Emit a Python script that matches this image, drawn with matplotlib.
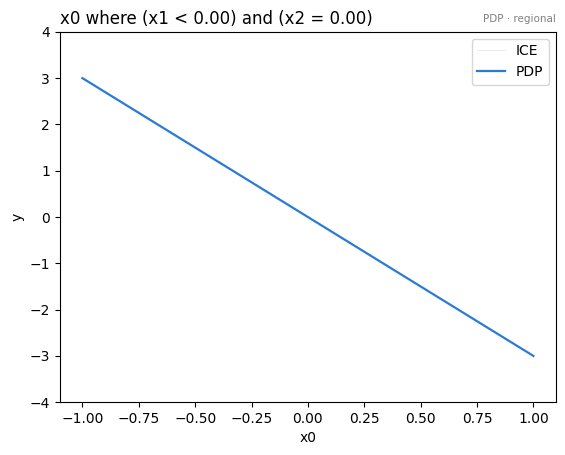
import matplotlib
matplotlib.use("Agg")
import matplotlib.pyplot as plt

# -------------------------------
# Data
# -------------------------------
x_grid = [-1.0, -0.5, 0.0, 0.5, 1.0]
ice_curves = [
    [3.0, 1.5, 0.0, -1.5, -3.0],
    [3.0, 1.5, 0.0, -1.5, -3.0],
    [3.0, 1.5, 0.0, -1.5, -3.0],
]
pdp_values = [3.0, 1.5, 0.0, -1.5, -3.0]

# -------------------------------
# Plot
# -------------------------------
fig = plt.figure(figsize=(5.65, 4.55), dpi=100)
ax = fig.add_axes([0.106, 0.116, 0.878, 0.814])

for i, curve in enumerate(ice_curves):
    ax.plot(x_grid, curve, color="lightgray", linewidth=0.5, alpha=0.6,
            label="ICE" if i == 0 else None)
ax.plot(x_grid, pdp_values, color="#2b7bd6", linewidth=1.6, label="PDP")

ax.set_ylim(-4, 4)
ax.set_xlabel("x0")
ax.set_ylabel("y")
ax.set_title("x0 where (x1 < 0.00) and (x2 = 0.00)", loc="left")
ax.text(1.0, 1.02, "PDP · regional", transform=ax.transAxes,
        ha="right", va="bottom", fontsize=7.5, color="gray")
ax.legend(loc="upper right")

fig.savefig("out.png", dpi=100)
